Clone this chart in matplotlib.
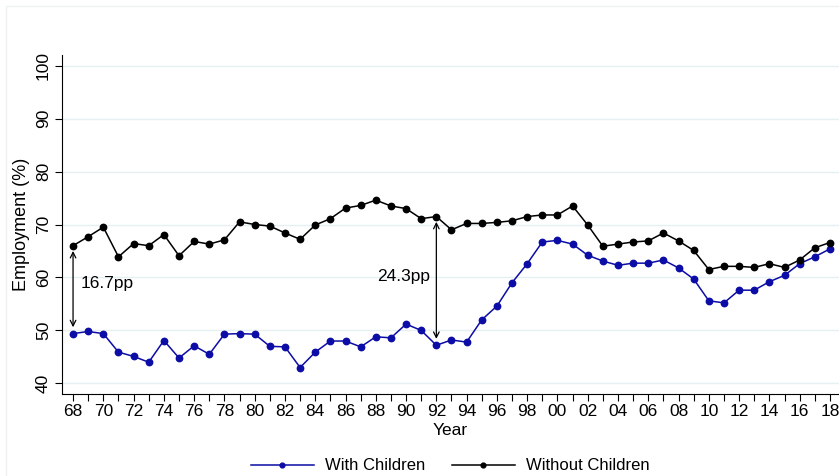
import matplotlib
matplotlib.use("Agg")
import matplotlib.pyplot as plt
from matplotlib.patches import Rectangle

plt.rcParams['font.family'] = ['Liberation Sans', 'DejaVu Sans']

years = list(range(1968, 2019))
with_children = [49.4, 49.8, 49.4, 45.9, 45.1, 44.0, 48.1, 44.8, 47.1, 45.5,
                 49.3, 49.4, 49.3, 47.0, 46.9, 43.0, 45.9, 48.0, 48.0, 46.9,
                 48.8, 48.6, 51.2, 50.0, 47.2, 48.2, 47.8, 52.0, 54.6, 59.0,
                 62.6, 66.7, 67.0, 66.3, 64.2, 63.1, 62.3, 62.7, 62.7, 63.3,
                 61.8, 59.7, 55.6, 55.2, 57.6, 57.6, 59.2, 60.4, 62.6, 63.9,
                 65.4]
without_children = [66.0, 67.7, 69.5, 63.9, 66.4, 66.0, 68.1, 64.1, 66.8, 66.3,
                    67.1, 70.5, 70.0, 69.7, 68.4, 67.2, 69.9, 71.1, 73.1, 73.6,
                    74.6, 73.5, 73.0, 71.1, 71.5, 69.0, 70.2, 70.2, 70.4, 70.7,
                    71.5, 71.8, 71.8, 73.5, 69.9, 65.9, 66.3, 66.7, 66.9, 68.4,
                    66.9, 65.1, 61.5, 62.1, 62.1, 61.9, 62.6, 61.9, 63.3, 65.6,
                    66.6]
xtick_years = list(range(1968, 2019, 2))
xtick_labels = ["68", "70", "72", "74", "76", "78", "80", "82", "84", "86",
                "88", "90", "92", "94", "96", "98", "00", "02", "04", "06",
                "08", "10", "12", "14", "16", "18"]
yticks = [40, 50, 60, 70, 80, 90, 100]
gap_years = [1968, 1992]
gap_labels = ["16.7pp", "24.3pp"]

blue = '#0c0ca6'

fig = plt.figure(figsize=(8.39, 4.76), dpi=100)

# faint outer graph-region border
fig.patches.append(Rectangle((6/839, -0.1), 1.2, 1 - 6/476 + 0.1,
                             transform=fig.transFigure, fill=False,
                             edgecolor='#eef1f1', lw=1.0, zorder=0))

ax = fig.add_axes([62/839, 1 - 394/476, (839 - 62)/839, (394 - 55)/476])

ax.plot(years, with_children, color=blue, marker='o', markersize=4.6, lw=1.1,
        label='With Children')
ax.plot(years, without_children, color='black', marker='o', markersize=4.6, lw=1.1,
        label='Without Children')

ax.set_xlim(1967.27, 2018.6)
ax.set_ylim(38, 102)
ax.set_yticks(yticks)
ax.set_yticklabels([str(v) for v in yticks], rotation=90, va='center', fontsize=12.5)
ax.set_xticks(years, minor=True)
ax.set_xticks(xtick_years)
ax.set_xticklabels(xtick_labels, fontsize=12.5)
ax.tick_params(axis='x', which='both', length=5, width=0.8, direction='out', pad=2)
ax.tick_params(axis='y', length=5, width=0.8, pad=3)
ax.grid(axis='y', color='#e6eff1', lw=1.0)
ax.set_axisbelow(True)
ax.patch.set_alpha(0)
for s in ['top', 'right']:
    ax.spines[s].set_visible(False)
for s in ['left', 'bottom']:
    ax.spines[s].set_linewidth(0.8)

ax.set_xlabel('Year', fontsize=12.5, labelpad=3)
ax.set_ylabel('Employment (%)', fontsize=13, labelpad=4)

# gap annotations
for yr, lab in zip(gap_years, gap_labels):
    i = years.index(yr)
    lo = with_children[i]
    hi = without_children[i]
    ax.annotate('', xy=(yr, lo + 1.2), xytext=(yr, hi - 1.0),
                arrowprops=dict(arrowstyle='<->', color='black', lw=0.9,
                                shrinkA=0, shrinkB=0, mutation_scale=10))
ax.text(1968.5, 58.8, gap_labels[0], fontsize=12.5, ha='left', va='center')
ax.text(1991.6, 60.1, gap_labels[1], fontsize=12.5, ha='right', va='center')

leg = fig.legend(loc='center', bbox_to_anchor=(450/839, 1 - 466/476), ncol=2,
                 frameon=False, fontsize=12, handlelength=3.8, columnspacing=1.6,
                 handletextpad=0.65, markerscale=0.75)

fig.savefig('out.png', dpi=100)
